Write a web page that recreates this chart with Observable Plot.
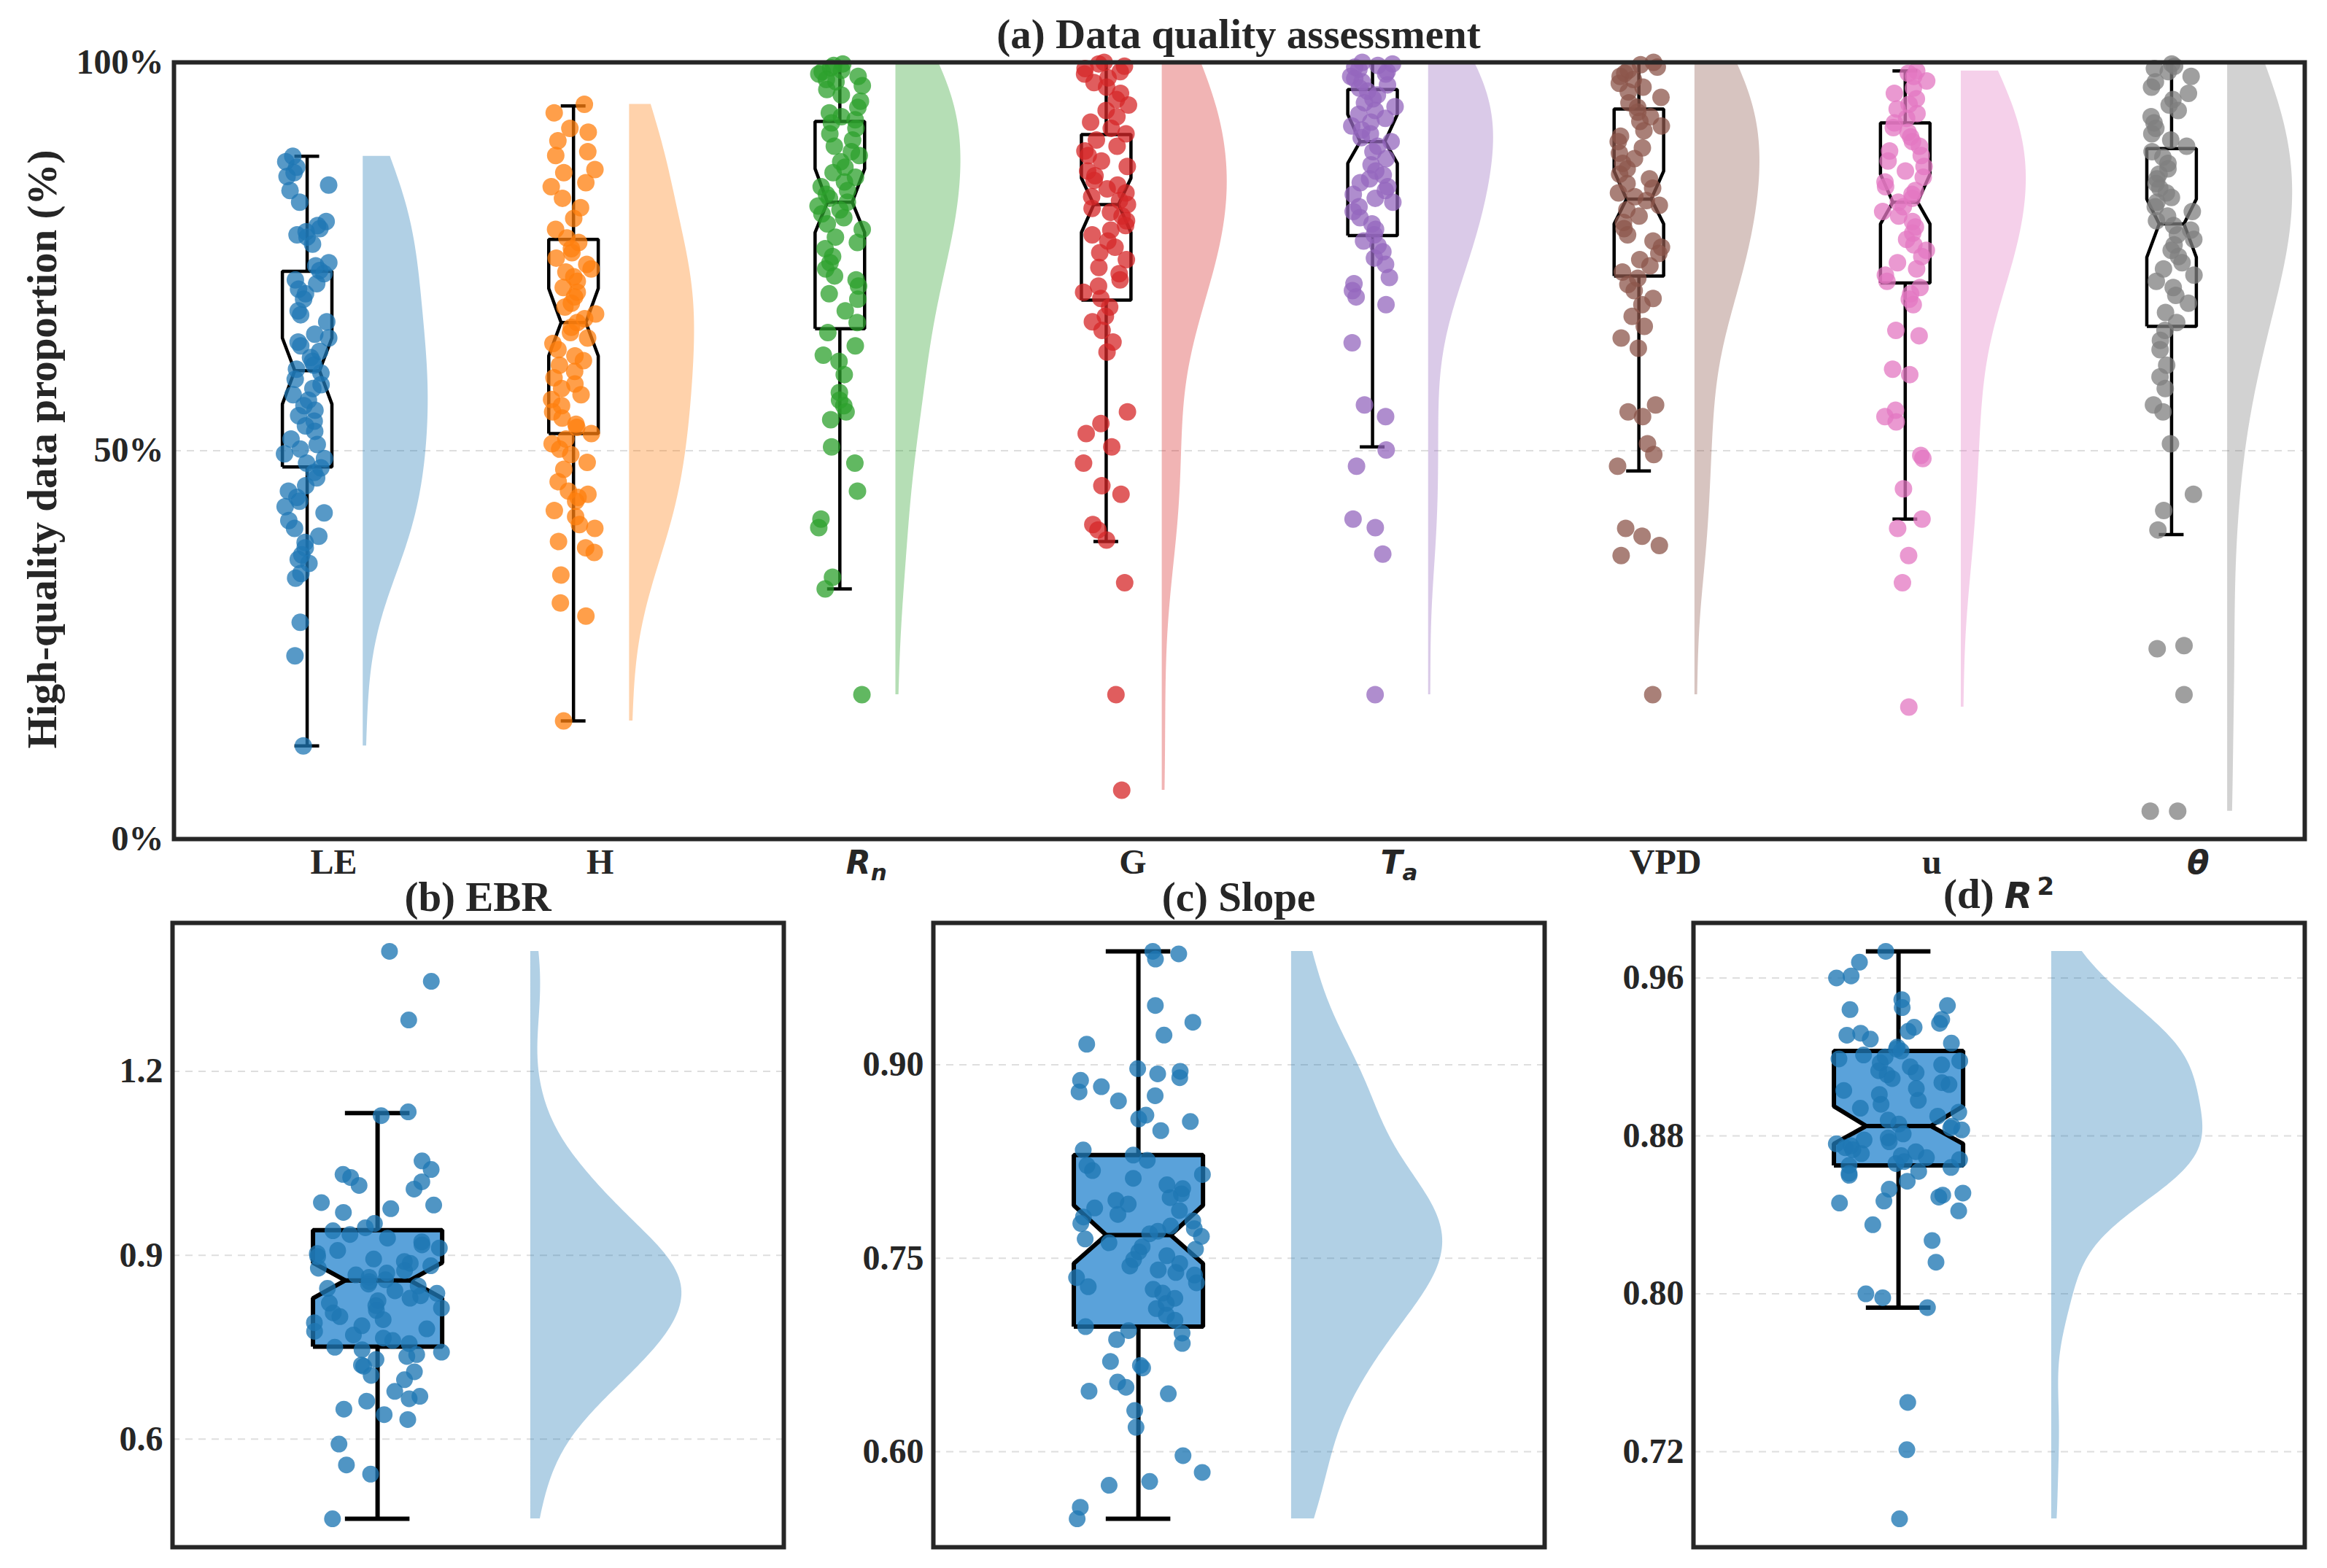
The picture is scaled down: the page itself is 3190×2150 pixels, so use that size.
<!DOCTYPE html>
<html><head><meta charset="utf-8">
<script src="https://cdn.jsdelivr.net/npm/d3@7"></script>
<script src="https://cdn.jsdelivr.net/npm/@observablehq/plot@0.6"></script>
<style>
html,body{margin:0;padding:0;background:#fff;}
#fig{position:relative;width:3190px;height:2150px;background:#fff;overflow:hidden;font-family:"Liberation Serif","Times New Roman",serif;font-weight:bold;color:#262626;}
#fig svg{position:absolute;}
.title{position:absolute;font-size:57px;line-height:57px;white-space:nowrap;transform:translate(-50%,-50%);z-index:5;}
.ylab{position:absolute;font-size:57px;line-height:57px;white-space:nowrap;transform:translate(-50%,-50%) rotate(-90deg);z-index:5;}
.math{font-family:"DejaVu Sans",sans-serif;font-style:italic;font-weight:bold;font-size:50px;}
</style></head><body><div id="fig"></div>
<script>
// ---------- data ----------
const categories = ["LE","H","Rn","G","Ta","VPD","u","θ"];
const colors = ["#1f77b4","#ff7f0e","#2ca02c","#d62728","#9467bd","#8c564b","#e377c2","#7f7f7f"];

const LE = [87.9,87.2,86.5,85.8,85.3,84.2,83.5,82.0,79.5,79.0,78.6,78.2,77.8,77.5,76.6,74.2,73.8,73.2,72.8,72.0,71.5,70.8,70.2,69.5,68.0,67.5,66.6,65.0,64.5,64.0,63.5,62.8,62.0,61.5,61.0,60.5,60.0,59.2,58.5,58.0,57.2,56.5,55.8,55.2,54.5,53.8,53.2,52.5,51.5,50.8,50.2,49.6,49.0,48.4,47.8,47.2,46.5,45.5,44.8,44.0,43.5,42.8,42.0,41.0,40.0,39.0,38.2,37.5,36.6,36.0,35.5,34.2,33.6,27.9,23.6,12.0];
const H = [94.6,93.5,91.5,91.0,89.9,88.5,88.0,86.2,85.8,84.5,84.0,82.5,81.3,79.9,78.5,77.4,76.8,76.0,75.5,74.8,74.0,73.4,73.0,72.4,71.8,71.0,70.4,69.8,69.0,68.5,67.6,67.0,66.5,65.9,65.2,64.5,63.8,63.0,62.2,61.6,61.0,60.2,59.4,58.6,58.0,57.2,56.6,55.8,55.0,54.2,53.4,53.0,52.2,51.5,50.9,50.2,49.5,48.5,47.6,46.0,44.8,44.4,44.0,43.5,42.3,41.5,40.5,40.0,38.3,37.5,36.9,34.0,30.4,28.7,15.2];
const Rn = [99.8,99.6,99.3,99.0,98.8,98.5,98.2,97.8,97.5,97.0,96.5,95.8,95.0,94.2,93.5,93.0,92.6,92.2,91.5,90.8,90.0,89.2,88.5,88.0,87.2,86.5,85.8,85.2,84.6,84.0,83.5,83.0,82.5,82.0,81.5,81.0,80.5,80.0,79.2,78.5,77.5,76.8,76.0,75.0,74.2,73.4,72.5,72.0,71.2,70.2,69.5,68.0,66.5,65.2,63.5,62.3,61.5,59.8,57.5,56.5,55.8,55.0,54.0,50.5,48.4,44.8,41.2,40.1,33.7,32.2,18.6];
const G = [100,99.8,99.5,99.2,98.8,98.5,98.0,97.4,96.8,96.0,95.2,94.5,93.8,93.0,92.3,91.5,90.8,90.0,89.2,88.6,88.0,87.3,86.6,86.0,85.4,84.8,84.2,83.7,83.2,82.7,82.2,81.7,81.2,80.7,80.2,79.6,79.0,78.4,77.8,77.0,76.2,75.5,74.6,73.6,72.8,72.0,71.2,70.4,69.6,68.5,67.3,66.6,65.5,64.0,62.7,55.0,53.5,52.2,50.5,48.4,45.5,44.4,40.5,39.8,38.5,33.0,18.6,6.3];
const Ta = [100,99.8,99.6,99.4,99.1,98.8,98.5,98.2,97.9,97.5,97.1,96.7,96.3,95.8,95.3,94.8,94.3,93.8,93.3,92.8,92.3,91.8,91.3,90.8,90.3,89.8,89.2,88.5,87.6,86.8,86.0,85.5,85.0,84.5,84.0,83.5,83.0,82.5,82.0,81.4,80.8,80.0,79.2,78.5,77.8,77.0,76.4,75.6,74.8,74.0,72.3,71.5,70.6,69.8,68.8,63.9,55.9,54.4,50.1,48.0,41.2,40.1,36.7,18.6];
const VPD = [100,99.7,99.4,99.0,98.6,98.2,97.8,97.3,96.8,96.2,95.5,94.8,94.2,93.6,93.0,92.4,91.8,91.2,90.5,89.8,89.0,88.3,87.6,87.0,86.3,85.6,85.0,84.4,83.8,83.2,82.7,82.2,81.6,81.0,80.2,79.4,78.6,77.8,77.0,76.2,75.4,74.6,73.8,73.0,72.2,71.4,70.6,69.6,68.8,67.3,66.0,64.5,63.2,55.9,55.0,54.4,50.9,49.5,48.0,40.0,39.0,37.8,36.5,18.6];
const U = [98.9,98.6,98.2,97.6,96.7,96.0,95.3,94.6,94.0,93.4,92.8,92.2,91.6,91.0,90.4,89.8,89.2,88.6,88.0,87.3,86.6,86.0,85.2,84.6,84.0,83.5,83.0,82.5,82.0,81.4,80.8,80.2,79.5,78.8,78.0,77.2,76.5,75.8,75.0,74.2,73.4,72.6,71.8,71.0,70.2,69.5,68.8,65.5,64.8,60.5,59.8,55.2,54.4,53.7,49.4,49.0,45.1,41.2,40.0,36.5,33.0,17.0];
const THETA = [99.8,99.5,99.2,98.8,98.2,97.5,96.8,96.0,95.2,94.5,93.8,93.0,92.2,91.5,90.8,90.0,89.2,88.5,87.8,87.0,86.3,85.6,85.0,84.4,83.8,83.2,82.6,82.0,81.4,80.8,80.2,79.6,79.0,78.4,77.8,77.2,76.5,75.8,75.0,74.2,73.4,72.6,71.8,71.0,70.0,69.0,67.8,66.5,65.5,64.2,63.0,61.0,59.5,58.0,55.9,55.0,50.9,44.4,42.3,39.8,24.9,24.5,18.6,3.6,3.6];

// box statistics (a)
const boxQ1    = [47.9,52.2,65.7,69.4,77.7,72.5,71.6,66.0];
const boxNotchLo=[56.0,62.2,78.1,78.1,87.0,79.2,79.2,74.9];
const boxMed   = [60.3,66.5,82.0,81.7,89.8,82.4,82.0,79.2];
const boxNotchHi=[64.5,70.9,86.3,85.1,93.3,86.0,85.6,82.4];
const boxQ3    = [73.1,77.2,92.4,90.7,96.5,94.0,92.2,88.9];
const whiskLo  = [12.0,15.2,32.2,38.3,50.5,47.4,41.2,39.2];
const whiskHi  = [87.9,94.4,100,100,100,100,98.9,100];
const ticksA = [0,50,100];

const EBR = [1.396,1.347,1.284,1.134,1.128,1.054,1.040,1.032,1.027,1.020,1.014,1.008,0.986,0.982,0.976,0.970,0.952,0.945,0.940,0.934,0.928,0.922,0.917,0.912,0.908,0.903,0.898,0.894,0.890,0.887,0.883,0.879,0.875,0.871,0.868,0.864,0.860,0.857,0.853,0.850,0.846,0.842,0.838,0.834,0.830,0.826,0.822,0.818,0.814,0.810,0.806,0.800,0.795,0.790,0.785,0.780,0.776,0.770,0.765,0.761,0.756,0.750,0.746,0.742,0.738,0.735,0.730,0.721,0.719,0.710,0.704,0.697,0.678,0.670,0.666,0.662,0.649,0.640,0.632,0.592,0.558,0.543,0.470];
const SLOPE = [0.988,0.986,0.982,0.946,0.933,0.923,0.916,0.897,0.895,0.893,0.890,0.888,0.883,0.879,0.876,0.872,0.861,0.858,0.856,0.849,0.834,0.830,0.826,0.822,0.818,0.815,0.812,0.807,0.804,0.800,0.797,0.795,0.792,0.789,0.787,0.784,0.782,0.779,0.777,0.775,0.773,0.771,0.769,0.767,0.765,0.762,0.759,0.757,0.755,0.752,0.749,0.746,0.744,0.741,0.739,0.737,0.735,0.731,0.728,0.726,0.723,0.719,0.715,0.711,0.706,0.702,0.697,0.694,0.692,0.687,0.684,0.670,0.667,0.665,0.654,0.650,0.647,0.645,0.632,0.619,0.597,0.584,0.577,0.574,0.557,0.548];
const R2 = [0.9735,0.968,0.961,0.960,0.949,0.946,0.945,0.944,0.939,0.937,0.935,0.933,0.932,0.931,0.929,0.927,0.925,0.924,0.923,0.921,0.920,0.919,0.918,0.917,0.916,0.915,0.913,0.912,0.911,0.909,0.907,0.906,0.904,0.903,0.901,0.898,0.896,0.894,0.892,0.890,0.888,0.886,0.885,0.884,0.883,0.881,0.879,0.878,0.877,0.876,0.875,0.874,0.873,0.872,0.871,0.870,0.869,0.868,0.867,0.866,0.865,0.864,0.862,0.861,0.860,0.857,0.853,0.851,0.850,0.849,0.847,0.846,0.842,0.835,0.827,0.816,0.800,0.798,0.793,0.745,0.721,0.686];

// [q1, notchLo, median, notchHi, q3, whiskerLo, whiskerHi]
const statsEBR   = [0.751,0.830,0.859,0.888,0.941,0.470,1.132];
const statsSlope = [0.697,0.746,0.768,0.791,0.830,0.548,0.988];
const statsR2    = [0.865,0.876,0.885,0.895,0.923,0.793,0.9735];
const ticksEBR = [0.6,0.9,1.2];
const ticksSlope = [0.60,0.75,0.90];
const ticksR2 = [0.72,0.80,0.88,0.96];

// ---------- helpers ----------
const fig = document.getElementById("fig");
const FONT = '"Liberation Serif","Times New Roman",serif';
const baseStyle = {fontFamily: FONT, fontWeight: "bold", fontSize: "48px", color: "#262626", background: "transparent", overflow: "visible"};

// deterministic horizontal spread of the strip points (position only)
function jitter(k, s){ const v = Math.sin((k + 1) * 78.233 + s * 12.9898) * 43758.5453; return (v - Math.floor(v)) * 2 - 1; }

function violinRows(vals, base, width){
  const n = vals.length, sd = d3.deviation(vals), bw = sd * Math.pow(n, -0.2);
  const lo = d3.min(vals), hi = d3.max(vals), N = 160;
  const ys = d3.range(N + 1).map(k => lo + (hi - lo) * k / N);
  const dens = ys.map(y => d3.sum(vals, v => Math.exp(-0.5 * ((y - v) / bw) ** 2)));
  const m = d3.max(dens);
  return ys.map((y, k) => ({y, x1: base, x2: base + width * dens[k] / m}));
}
function boxMarks(c, w, s, fill, sw){
  const [q1, nlo, med, nhi, q3, wlo, whi] = s;
  const L = c - w/2, R = c + w/2, l = c - w/4, r = c + w/4;
  const area = [{y:q1,x1:L,x2:R},{y:nlo,x1:L,x2:R},{y:med,x1:l,x2:r},{y:nhi,x1:L,x2:R},{y:q3,x1:L,x2:R}];
  const poly = [[L,q1],[R,q1],[R,nlo],[r,med],[R,nhi],[R,q3],[L,q3],[L,nhi],[l,med],[L,nlo],[L,q1]].map(([x,y]) => ({x,y}));
  const marks = [];
  if (fill) marks.push(Plot.areaX(area, {y:"y", x1:"x1", x2:"x2", fill, fillOpacity:1}));
  return {fillMarks: marks, lineMarks: [
    Plot.ruleX([{x:c,y1:q3,y2:whi},{x:c,y1:q1,y2:wlo}], {x:"x", y1:"y1", y2:"y2", stroke:"#000", strokeWidth:sw}),
    Plot.ruleY([{y:whi,x1:l,x2:r},{y:wlo,x1:l,x2:r}], {y:"y", x1:"x1", x2:"x2", stroke:"#000", strokeWidth:sw}),
    Plot.line(poly, {x:"x", y:"y", stroke:"#000", strokeWidth:sw, strokeLinejoin:"miter", strokeLinecap:"butt"}),
    Plot.ruleY([{y:med,x1:l,x2:r}], {y:"y", x1:"x1", x2:"x2", stroke:"#000", strokeWidth:sw})
  ]};
}
function addTitle(html, cx, cy){
  const d = document.createElement("div"); d.className = "title"; d.innerHTML = html;
  d.style.left = cx + "px"; d.style.top = cy + "px"; fig.appendChild(d);
}

// ---------- panel (a) ----------
(function(){
  const BOX_OFF = -0.1, BOX_W = 0.186, VIO_OFF = 0.11, VIO_W = 0.244, JIT = 0.085;
  const series = [LE, H, Rn, G, Ta, VPD, U, THETA];
  const marks = [Plot.gridY([50], {stroke:"#c8c8c8", strokeOpacity:0.6, strokeDasharray:"10,8", strokeWidth:2})];
  series.forEach((vals, i) => {
    marks.push(Plot.areaX(violinRows(vals, i + VIO_OFF, VIO_W), {y:"y", x1:"x1", x2:"x2", fill:colors[i], fillOpacity:0.35}));
  });
  series.forEach((vals, i) => {
    const c = i + BOX_OFF;
    const b = boxMarks(c, BOX_W, [boxQ1[i], boxNotchLo[i], boxMed[i], boxNotchHi[i], boxQ3[i], whiskLo[i], whiskHi[i]], null, 4.5);
    marks.push(...b.lineMarks);
    const pts = vals.map((v, k) => ({x: c + JIT * jitter(k, i), y: v}));
    marks.push(Plot.dot(pts, {x:"x", y:"y", r:12, fill:colors[i], fillOpacity:0.75, stroke:"none"}));
  });
  marks.push(Plot.axisY({ticks: ticksA, tickFormat: d => d + "%", tickSize: 0, tickPadding: 14, label: null}));
  marks.push(Plot.axisX({ticks: d3.range(categories.length), tickFormat: i => categories[i], tickSize: 0, tickPadding: 13, label: null}));
  marks.push(Plot.frame({stroke:"#262626", strokeWidth:6}));
  const svg = Plot.plot({
    width: 3190, height: 1205, marginLeft: 238, marginRight: 31, marginTop: 85, marginBottom: 55,
    x: {domain: [-0.6, 7.4]}, y: {domain: [0, 100]},
    style: baseStyle, marks
  });
  svg.style.left = "0px"; svg.style.top = "0px";
  fig.appendChild(svg);
  // math-style category labels
  const math = {"Rn": ["R","n"], "Ta": ["T","a"], "θ": ["θ", null]};
  d3.select(svg).selectAll("text").each(function(){
    const t = d3.select(this), s = t.text();
    if (math[s] && this.childElementCount === 0) {
      t.text("");
      t.append("tspan").attr("font-family", '"DejaVu Sans",sans-serif').attr("font-style","italic").attr("font-size","44px").text(math[s][0]);
      if (math[s][1]) t.append("tspan").attr("font-family", '"DejaVu Sans",sans-serif').attr("font-style","italic").attr("font-size","31px").attr("dy","0.3em").text(math[s][1]);
    }
  });
})();

// ---------- bottom panels ----------
function bottomPanel(vals, stats, ticks, fmt, frameLeft, seed){
  const lo = d3.min(vals), hi = d3.max(vals), pad = (hi - lo) * 0.05;
  const mL = 170, mR = 10, mT = 60, mB = 12, fw = 838, fh = 856;
  const VIO_OFF = 0.237, VIO_W = 0.234, BOX_W = 0.2, JIT = 0.1;
  const b = boxMarks(0, BOX_W, stats, "#5aa2da", 6);
  const pts = vals.map((v, k) => ({x: JIT * jitter(k, seed), y: v}));
  const svg = Plot.plot({
    width: mL + fw + mR, height: mT + fh + mB, marginLeft: mL, marginRight: mR, marginTop: mT, marginBottom: mB,
    x: {domain: [-0.3175, 0.629], axis: null}, y: {domain: [lo - pad, hi + pad]},
    style: baseStyle,
    marks: [
      Plot.gridY(ticks, {stroke:"#c8c8c8", strokeOpacity:0.6, strokeDasharray:"10,8", strokeWidth:2}),
      Plot.areaX(violinRows(vals, VIO_OFF, VIO_W), {y:"y", x1:"x1", x2:"x2", fill:"#1f77b4", fillOpacity:0.35}),
      ...b.fillMarks,
      ...b.lineMarks,
      Plot.dot(pts, {x:"x", y:"y", r:11.5, fill:"#1f77b4", fillOpacity:0.78, stroke:"none"}),
      Plot.axisY({ticks, tickFormat: d3.format(fmt), tickSize: 0, tickPadding: 13, label: null}),
      Plot.frame({stroke:"#262626", strokeWidth:6})
    ]
  });
  svg.style.left = (frameLeft - mL) + "px"; svg.style.top = (1265 - mT) + "px";
  fig.appendChild(svg);
}
bottomPanel(EBR, statsEBR, ticksEBR, ".1f", 236, 11);
bottomPanel(SLOPE, statsSlope, ticksSlope, ".2f", 1279, 12);
bottomPanel(R2, statsR2, ticksR2, ".2f", 2321, 13);

// ---------- titles and labels ----------
addTitle("(a) Data quality assessment", 1698, 46);
addTitle("(b) EBR", 655, 1229);
addTitle("(c) Slope", 1698, 1229);
addTitle('(d) <span class="math">R</span><sup class="math" style="font-size:34px;font-style:normal;vertical-align:0;position:relative;top:-18px;margin-left:6px">2</sup>', 2740, 1229);
const yl = document.createElement("div"); yl.className = "ylab";
yl.textContent = "High-quality data proportion (%)";
yl.style.left = "57px"; yl.style.top = "616px"; fig.appendChild(yl);
</script></body></html>
